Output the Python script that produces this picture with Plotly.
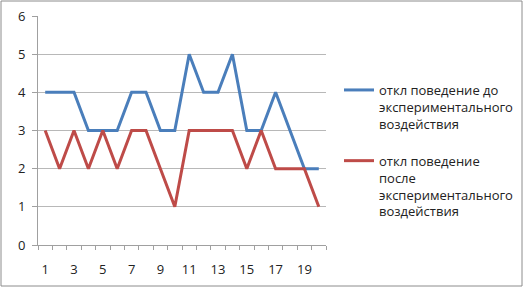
import plotly.graph_objects as go

x_vals = list(range(1, 21))
before = [4, 4, 4, 3, 3, 3, 4, 4, 3, 3, 5, 4, 4, 5, 3, 3, 4, 3, 2, 2]
after = [3, 2, 3, 2, 3, 2, 3, 3, 2, 1, 3, 3, 3, 3, 2, 3, 2, 2, 2, 1]
name_before = "откл поведение до<br>экспериментального<br>воздействия"
name_after = "откл поведение<br>после<br>экспериментального<br>воздействия"
x_tick_vals = list(range(1, 21, 2))
x_tick_text = [str(v) for v in x_tick_vals]

L, R, T, B = 38, 199, 16, 44
W, H = 525, 289
pw, ph = W - L - R, H - T - B

def px(xp):
    return (xp - L) / pw

def py(yp):
    return (H - B - yp) / ph

font = "Open Sans"
fig = go.Figure()
fig.add_trace(go.Scatter(x=x_vals, y=before, mode="lines", name=name_before,
                         legendgroup="a",
                         line=dict(color="#4a7ebb", width=3)))
fig.add_trace(go.Scatter(x=x_vals, y=after, mode="lines", name=name_after,
                         legendgroup="b",
                         line=dict(color="#be4b48", width=3)))

fig.update_layout(
    width=W, height=H,
    margin=dict(l=L, r=R, t=T, b=B, pad=0, autoexpand=False),
    paper_bgcolor="white", plot_bgcolor="white",
    font=dict(family=font, size=13, color="#222222"),
    legend=dict(x=px(519), y=py(75), xanchor="right", yanchor="top",
                valign="top", font=dict(family=font, size=13, color="#222222"),
                tracegroupgap=17, itemwidth=30, bgcolor="rgba(0,0,0,0)"),
    showlegend=True,
    xaxis=dict(range=[0.5, 20.5], tickmode="array", tickvals=x_tick_vals,
               ticktext=x_tick_text, ticks="", showgrid=False, zeroline=False,
               showline=True, linecolor="#a0a0a0", linewidth=1,
               ticklabelstandoff=12,
               minor=dict(tickvals=[i + 0.5 for i in range(0, 21)], ticks="outside",
                          ticklen=4, tickcolor="#a0a0a0", showgrid=False)),
    yaxis=dict(range=[0, 6], tickmode="linear", dtick=1, ticks="outside",
               ticklen=5, tickcolor="#a0a0a0", showgrid=True, gridcolor="#b8b8b8",
               gridwidth=1, zeroline=False, showline=True, linecolor="#a0a0a0",
               linewidth=1, ticklabelstandoff=4),
    shapes=[dict(type="rect", xref="paper", yref="paper",
                 x0=px(1), x1=px(522), y0=py(286), y1=py(1),
                 line=dict(color="#8c8c8c", width=1), layer="below")],
)
fig.write_html("out.html")
